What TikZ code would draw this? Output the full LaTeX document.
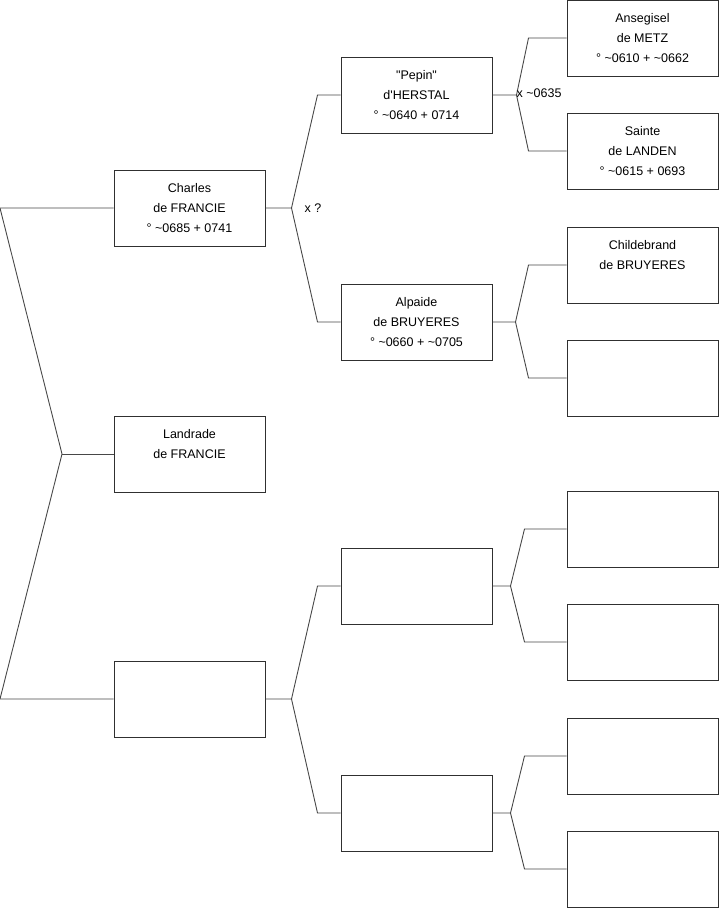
\documentclass[tikz,border=0pt]{standalone}
\usepackage{fontspec}
\setmainfont{Liberation Sans}
\usetikzlibrary{positioning,calc}
\definecolor{cBOX}{HTML}{303030}
\definecolor{cLNK}{HTML}{484848}

\begin{document}
\begin{tikzpicture}[x=1pt, y=-1pt,
  font=\fontsize{12.5}{20}\selectfont,
  person/.style={draw=cBOX, line width=1pt, minimum width=151pt, minimum height=76pt, inner sep=0pt, align=center},
  link/.style={draw=cLNK, line width=0.9pt}]
\useasboundingbox (0,0) rectangle (719,908);
% generation 1
\node[person] (g1a) at (189.5,208) {Charles\\de FRANCIE\\° \textasciitilde0685 + 0741};
\node[person] (g1b) at (189.5,454) {Landrade\\de FRANCIE\\\mbox{}};
\node[person] (g1c) at (189.5,699) {};
% generation 2
\node[person] (g2a) at (416.5,95) {\textquotedbl Pepin\textquotedbl\\d\textquotesingle HERSTAL\\° \textasciitilde0640 + 0714};
\node[person] (g2b) at (416.5,322) {Alpaide\\de BRUYERES\\° \textasciitilde0660 + \textasciitilde0705};
\node[person] (g2c) at (416.5,586) {};
\node[person] (g2d) at (416.5,813) {};
% generation 3
\node[person] (g3a) at (642.5,38) {Ansegisel\\de METZ\\° \textasciitilde0610 + \textasciitilde0662};
\node[person] (g3b) at (642.5,151) {Sainte\\de LANDEN\\° \textasciitilde0615 + 0693};
\node[person] (g3c) at (642.5,265) {Childebrand\\de BRUYERES\\\mbox{}};
\node[person] (g3d) at (642.5,378) {};
\node[person] (g3e) at (642.5,529) {};
\node[person] (g3f) at (642.5,642) {};
\node[person] (g3g) at (642.5,756) {};
\node[person] (g3h) at (642.5,869) {};

% root bracket
\coordinate (r1) at (0,208);
\coordinate (rm) at (62,454);
\coordinate (r2) at (0,699);
\draw[link] (g1a.west) -- (r1) -- (rm) -- (r2) -- (g1c.west);
\draw[link] (rm) -- (g1b.west);

% forks to the parents
\coordinate (fa) at ($(g1a.east)+(26,0)$);
\draw[link] (g1a.east) -- (fa) -- ([xshift=-23pt]g2a.west) -- (g2a.west);
\draw[link] (fa) -- ([xshift=-23pt]g2b.west) -- (g2b.west);
\node[anchor=west, inner sep=0pt] (ma) at ([xshift=13pt]fa) {x ?};

\coordinate (fc) at ($(g1c.east)+(26,0)$);
\draw[link] (g1c.east) -- (fc) -- ([xshift=-23pt]g2c.west) -- (g2c.west);
\draw[link] (fc) -- ([xshift=-23pt]g2d.west) -- (g2d.west);

\coordinate (fpa) at ($(g2a.east)+(24,0)$);
\draw[link] (g2a.east) -- (fpa) -- ([xshift=-38pt]g3a.west) -- (g3a.west);
\draw[link] (fpa) -- ([xshift=-38pt]g3b.west) -- (g3b.west);
\node[anchor=west, inner sep=0pt] (mpa) at ([yshift=2pt]fpa) {x \textasciitilde0635};

\coordinate (fpb) at ($(g2b.east)+(23,0)$);
\draw[link] (g2b.east) -- (fpb) -- ([xshift=-38pt]g3c.west) -- (g3c.west);
\draw[link] (fpb) -- ([xshift=-38pt]g3d.west) -- (g3d.west);

\coordinate (fpc) at ($(g2c.east)+(18,0)$);
\draw[link] (g2c.east) -- (fpc) -- ([xshift=-42pt]g3e.west) -- (g3e.west);
\draw[link] (fpc) -- ([xshift=-42pt]g3f.west) -- (g3f.west);

\coordinate (fpd) at ($(g2d.east)+(18,0)$);
\draw[link] (g2d.east) -- (fpd) -- ([xshift=-42pt]g3g.west) -- (g3g.west);
\draw[link] (fpd) -- ([xshift=-42pt]g3h.west) -- (g3h.west);
\end{tikzpicture}
\end{document}
